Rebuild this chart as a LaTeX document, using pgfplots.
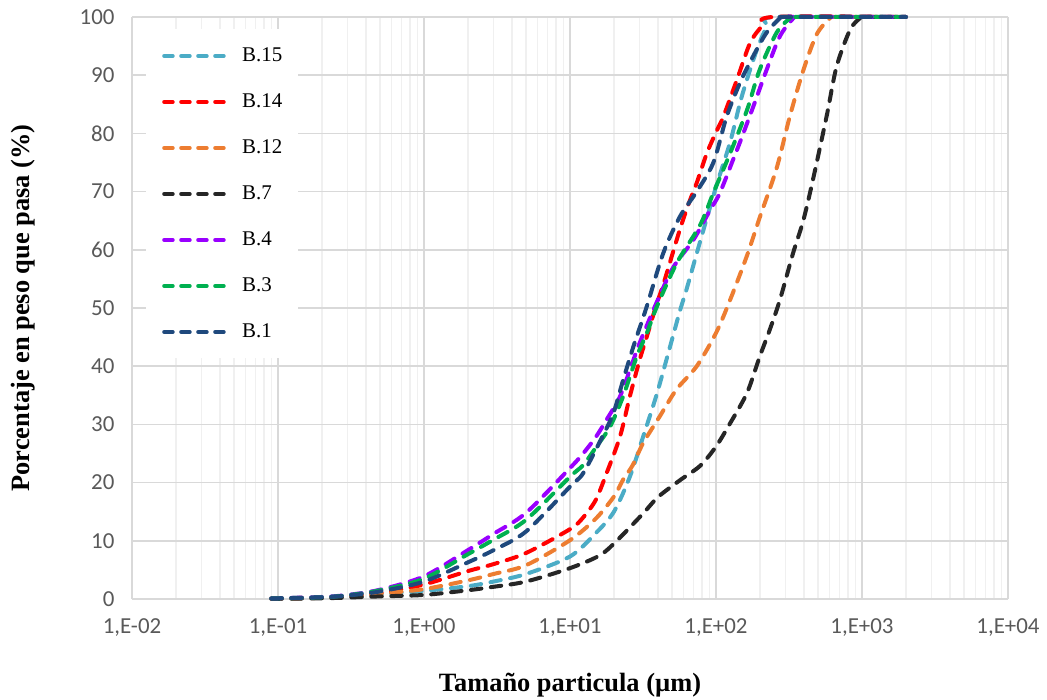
\documentclass[border=0pt]{standalone}
\usepackage{fontspec}
\setmainfont{Liberation Serif}
\newfontfamily\calibri{Carlito}
\usepackage{pgfplots}
\pgfplotsset{compat=1.18}
\definecolor{cBfifteen}{RGB}{75,172,198}
\definecolor{cBfourteen}{RGB}{255,0,0}
\definecolor{cBtwelve}{RGB}{237,125,49}
\definecolor{cBseven}{RGB}{38,38,38}
\definecolor{cBfour}{RGB}{153,0,255}
\definecolor{cBthree}{RGB}{0,176,80}
\definecolor{cBone}{RGB}{31,73,125}
\definecolor{gridmaj}{RGB}{217,217,217}
\definecolor{gridmin}{RGB}{240,240,240}
\definecolor{tickgray}{RGB}{89,89,89}
\begin{document}
\begin{tikzpicture}
\begin{axis}[name=ax,
 scale only axis, width=876bp, height=582bp,
 xmode=log, xmin=0.01, xmax=10000, ymin=0, ymax=100,
 xtick={0.01,0.1,1,10,100,1000,10000},
 xticklabels={{1,E-02},{1,E-01},{1,E+00},{1,E+01},{1,E+02},{1,E+03},{1,E+04}},
 minor xtick={0.02,0.03,0.04,0.05,0.06,0.07,0.08,0.09,0.2,0.3,0.4,0.5,0.6,0.7,0.8,0.9,2,3,4,5,6,7,8,9,20,30,40,50,60,70,80,90,200,300,400,500,600,700,800,900,2000,3000,4000,5000,6000,7000,8000,9000},
 ytick={0,10,20,30,40,50,60,70,80,90,100},
 yticklabels={0,10,20,30,40,50,60,70,80,90,100},
 xmajorgrids=true, xminorgrids=true, ymajorgrids=true,
 major grid style={draw=gridmaj, line width=1.6bp},
 minor grid style={draw=gridmin, line width=1.6bp},
 axis line style={draw=none},
 tick style={draw=none},
 ticklabel style={font=\calibri\fontsize{23}{27}\selectfont, text=tickgray},
 xticklabel style={yshift=-16bp},
 yticklabel style={xshift=-14bp},
 xlabel={Tamaño particula (µm)},
 ylabel={Porcentaje en peso que pasa (\%)},
 label style={font=\bfseries\fontsize{26.5}{30}\selectfont},
 xlabel style={at={(axis description cs:0.5,-0.148)}, anchor=center},
 ylabel style={at={(axis description cs:-0.1244,0.5)}, anchor=center},
 clip=false,
 legend style={at={(axis description cs:0.016,0.979)}, anchor=north west, draw=none, fill=white, inner sep=16bp, font=\fontsize{21}{25}\selectfont, row sep=25bp, column sep=14bp, nodes={inner sep=0pt, text height=16bp, text depth=5bp}},
 legend cell align=left,
 legend image code/.code={\draw[#1, dash pattern=on 8.5bp off 8.5bp] (0bp,0bp) -- (62bp,0bp);},
 every axis plot/.append style={line width=4bp, line cap=round, dash pattern=on 10.5bp off 9.5bp, smooth, tension=0.5},
]
\addplot[cBfifteen] coordinates {(0.09,0.05)(0.2,0.2)(0.3,0.4)(0.5,0.8)(1,1.4)(2,2.2)(3,3.0)(5,4.3)(10,7.3)(15,11.3)(20,15)(25.7,21)(31.7,27.9)(39.3,35.2)(48.5,43.4)(56.6,49.5)(63,53.3)(78,61.5)(100,70.8)(125,78.5)(150,86.3)(187,93.8)(222,98.3)(250,100)(2000,100)};
\addlegendentry{B.15}
\addplot[cBfourteen] coordinates {(0.09,0.1)(0.2,0.25)(0.3,0.5)(0.5,1.0)(1,2.5)(2,4.8)(3,6.0)(5,7.9)(10,12)(12.3,14)(15,17)(17.8,21.6)(22,27.9)(25.7,34.8)(30,41.1)(33.5,45)(39,50.5)(43.5,54)(56.6,63.5)(66.3,68.5)(73.8,71.5)(86.3,76.5)(100,80.2)(112,82.8)(139,89.2)(171,95.5)(206,98.4)(246,100)(2000,100)};
\addlegendentry{B.14}
\addplot[cBtwelve] coordinates {(0.09,0.05)(0.2,0.2)(0.3,0.45)(0.5,0.9)(1,1.7)(2,3.2)(3,4.3)(5,5.8)(10,10.1)(15,13.8)(20,17.6)(23.1,20.5)(26.9,23)(31.7,26.8)(41,31.3)(53.6,36)(73.8,40)(100,45.7)(125,51.4)(163,59)(199,65.5)(260,74)(321,83)(396,90.8)(489,97)(603,99.8)(650,100)(2000,100)};
\addlegendentry{B.12}
\addplot[cBseven] coordinates {(0.09,0.03)(0.2,0.12)(0.3,0.25)(0.5,0.45)(1,0.7)(2,1.5)(3,2.1)(5,3.0)(10,5.3)(16,7.5)(20.9,10)(31.7,14.7)(40,17.5)(56.6,20.4)(78,22.9)(100,26.2)(125,30.2)(163,35.4)(199,41.6)(233,46.2)(274,51.4)(337,59.4)(396,65)(461,72)(573,83)(670,91.5)(828,97.8)(968,99.8)(1000,100)(2000,100)};
\addlegendentry{B.7}
\addplot[cBfour] coordinates {(0.09,0.1)(0.2,0.35)(0.3,0.7)(0.5,1.6)(1,3.9)(2,8.4)(3,11.2)(5,14.8)(10,22.5)(12.3,25)(15,27.8)(17.8,30.8)(22,34.8)(27.2,41.1)(30,44)(39.3,51)(51,57)(70,61.7)(91,66.8)(106,69.7)(131,75.5)(145,78.3)(180,84.6)(222,90.9)(274,96.7)(339,99.8)(360,100)(2000,100)};
\addlegendentry{B.4}
\addplot[cBthree] coordinates {(0.09,0.1)(0.2,0.3)(0.3,0.65)(0.5,1.5)(1,3.5)(2,7.7)(3,10.2)(5,13.6)(10,21)(12.3,23)(15,26)(18.8,29.6)(23.1,34.8)(28.6,41.6)(33.5,45.6)(39.3,50.2)(53.8,57.7)(78,64.3)(96,69.8)(125,76.6)(163,84)(199,90.9)(260,97.3)(321,99.8)(340,100)(2000,100)};
\addlegendentry{B.3}
\addplot[cBone] coordinates {(0.09,0.1)(0.2,0.3)(0.3,0.6)(0.5,1.3)(1,3.0)(2,6.3)(3,8.4)(5,11.6)(10,19.3)(12.3,21.6)(16.2,27.3)(19.8,31.9)(23.1,37.6)(27.2,43.4)(33.5,50.2)(43.5,59.4)(56.6,65.7)(73.8,70)(96,75)(118,82.8)(146,88.7)(180,93.3)(222,97.3)(274,99.8)(290,100)(2000,100)};
\addlegendentry{B.1}
\end{axis}
\pgfresetboundingbox
\path[use as bounding box] ([xshift=-132bp,yshift=-101bp]ax.south west) rectangle ([xshift=39bp,yshift=17bp]ax.north east);
\end{tikzpicture}
\end{document}
